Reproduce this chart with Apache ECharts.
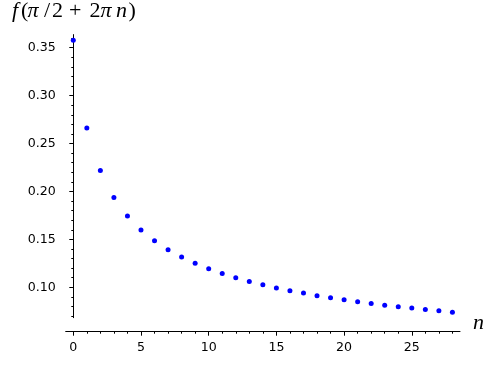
<!DOCTYPE html>
<html><head><meta charset="utf-8">
<script src="https://cdn.jsdelivr.net/npm/echarts@6/dist/echarts.min.js"></script>
<style>html,body{margin:0;padding:0;background:#fff}#c{width:489px;height:365px}</style>
</head><body><div id="c"></div>
<script>
const nValues = [0,1,2,3,4,5,6,7,8,9,10,11,12,13,14,15,16,17,18,19,20,21,22,23,24,25,26,27,28];
const fValues = [0.3577,0.2663,0.2219,0.1938,0.1743,0.1597,0.1486,0.1393,0.1316,0.1250,
                 0.1195,0.1143,0.1101,0.1062,0.1028,0.0993,0.0965,0.0940,0.0912,0.0891,
                 0.0870,0.0849,0.0832,0.0814,0.0797,0.0783,0.0769,0.0755,0.0740];
const xMajorTicks = [0,5,10,15,20,25];
const xMinorTicks = [1,2,3,4,6,7,8,9,11,12,13,14,16,17,18,19,21,22,23,24,26,27,28];
const yMajorTicks = [0.10,0.15,0.20,0.25,0.30,0.35];
const yMinorTicks = [0.07,0.08,0.09,0.11,0.12,0.13,0.14,0.16,0.17,0.18,0.19,0.21,0.22,0.23,0.24,
                     0.26,0.27,0.28,0.29,0.31,0.32,0.33,0.34,0.36];
const xRange = [-0.56, 28.56];
const yRange = [0.0683, 0.3637];

const chart = echarts.init(document.getElementById('c'), null, {renderer:'canvas'});
const labelFont = {fontFamily:'DejaVu Sans', fontSize:12.6, color:'#000'};
const black = {color:'#000', width:1};
const FS = 22;
const it = (w)=>({fontFamily:'Liberation Serif', fontStyle:'italic', fontSize:FS, fill:'#000', width:w});
const up = (w)=>({fontFamily:'Liberation Serif', fontSize:FS, fill:'#000', width:w});
const option = {
  animation:false,
  backgroundColor:'#fff',
  grid:{left:65.7, right:29, top:34.6, bottom:47.3, containLabel:false},
  xAxis:[
    {type:'value', min:xRange[0], max:xRange[1], position:'bottom', offset:14,
     axisLine:{show:true, onZero:false, lineStyle:black},
     axisTick:{show:true, length:4, lineStyle:black, customValues:xMajorTicks},
     axisLabel:Object.assign({show:true, margin:10, customValues:xMajorTicks, formatter:v=>String(v)}, labelFont),
     splitLine:{show:false}},
    {type:'value', min:xRange[0], max:xRange[1], position:'bottom', offset:14,
     axisLine:{show:false, onZero:false},
     axisTick:{show:true, length:2, lineStyle:black, customValues:xMinorTicks},
     axisLabel:{show:false}, splitLine:{show:false}}
  ],
  yAxis:[
    {type:'value', min:yRange[0], max:yRange[1], position:'left',
     axisLine:{show:true, onZero:true, lineStyle:black},
     axisTick:{show:true, length:4, lineStyle:black, customValues:yMajorTicks},
     axisLabel:Object.assign({show:true, margin:10, customValues:yMajorTicks, formatter:v=>v.toFixed(2)}, labelFont),
     splitLine:{show:false}},
    {type:'value', min:yRange[0], max:yRange[1], position:'left',
     axisLine:{show:false, onZero:true},
     axisTick:{show:true, length:2, lineStyle:black, customValues:yMinorTicks},
     axisLabel:{show:false}, splitLine:{show:false}}
  ],
  series:[{
    type:'scatter', xAxisIndex:0, yAxisIndex:0,
    data:nValues.map((n,i)=>[n,fValues[i]]),
    symbol:'circle', symbolSize:5,
    itemStyle:{color:'#0000ff', opacity:1}
  }],
  graphic:[
    {type:'text', left:12, top:0,
     style:{text:'{a|f}{b|(}{c|π}{d|/}{e|2}{f|+}{g|2}{h|π}{k|n}{l|)}', fill:'#000',
       rich:{a:it(9), b:up(6.5), c:it(16.5), d:up(8), e:up(17), f:up(20.5), g:up(11), h:it(15.5), k:it(12.5), l:up(9)}}},
    {type:'text', left:473, top:312,
     style:{text:'n', fill:'#000', font:'italic 22px "Liberation Serif"'}}
  ]
};
chart.setOption(option);
</script></body></html>
